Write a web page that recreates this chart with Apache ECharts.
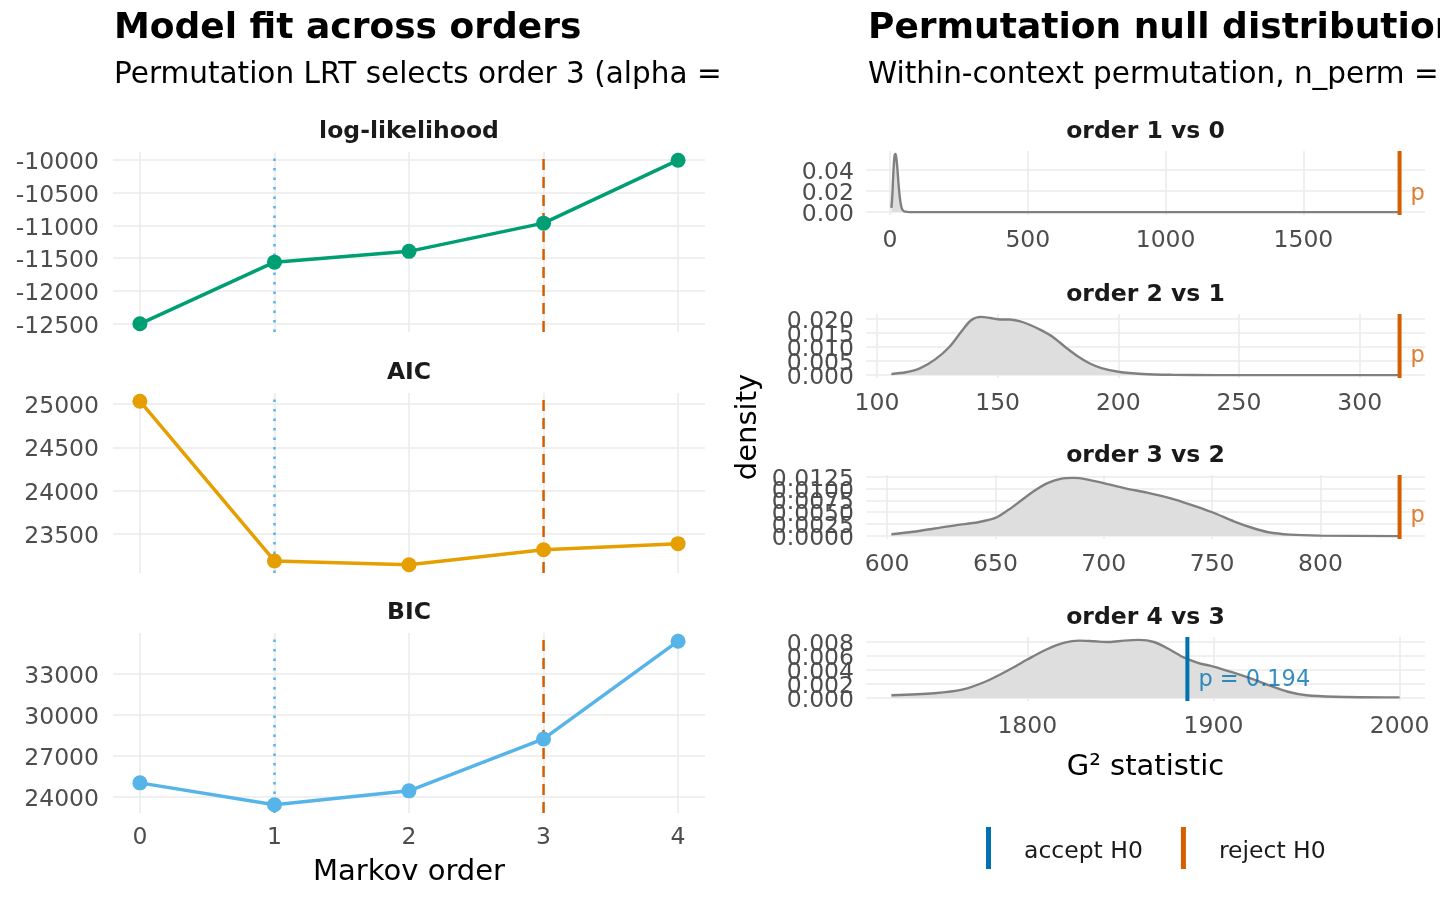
<!DOCTYPE html>
<html>
<head>
<meta charset="utf-8">
<title>Markov order selection</title>
<script src="https://cdn.jsdelivr.net/npm/echarts@6/dist/echarts.min.js"></script>
<style>
html, body { margin: 0; padding: 0; background: #fff; }
#main { width: 1440px; height: 900px; }
</style>
</head>
<body>
<div id="main"></div>
<script>
// ---- model fit across orders ----
var orders = [0, 1, 2, 3, 4];
var logLik = [-12500, -11560, -11395, -10965, -10005];
var aicVals = [25035, 23185, 23140, 23315, 23385];
var bicVals = [25025, 23415, 24440, 28245, 35415];
var llTicks = [-12500, -12000, -11500, -11000, -10500, -10000];
var aicTicks = [23500, 24000, 24500, 25000];
var bicTicks = [24000, 27000, 30000, 33000];
var icOrder = 1;    // dotted line
var lrtOrder = 3;   // dashed line, order picked by the permutation LRT

// ---- permutation null distributions (G2, density) ----
var nullLabels = ['order 1 vs 0', 'order 2 vs 1', 'order 3 vs 2', 'order 4 vs 3'];
var dens10 = [[5,0.004],[8,0.014],[11,0.031],[14,0.046],[17,0.054],[20,0.055],[23,0.051],[26,0.043],[29,0.033],
  [32,0.023],[35,0.015],[38,0.009],[42,0.004],[47,0.0015],[55,0.0004],[70,0],[1849,0]];
var dens21 = [[106,0.0004],[112,0.001],[118,0.0025],[124,0.0055],[130,0.01],[135,0.0155],[139,0.0195],[143,0.0207],
  [147,0.0203],[151,0.0198],[155,0.0198],[159,0.0192],[163,0.018],[168,0.016],[173,0.0135],[178,0.01],[183,0.0068],
  [188,0.0042],[193,0.0025],[200,0.0012],[210,0.0004],[222,0.0001],[240,0],[316.5,0]];
var dens32 = [[602,0.0004],[612,0.0009],[622,0.0016],[632,0.0023],[642,0.0029],[650,0.0038],[656,0.0055],[662,0.0075],
  [668,0.0095],[674,0.0111],[680,0.012],[686,0.0122],[692,0.0119],[700,0.0111],[710,0.01],[720,0.0091],[730,0.008],
  [740,0.0066],[750,0.005],[760,0.0031],[768,0.0018],[776,0.0008],[786,0.0003],[800,0.0001],[836.5,0]];
var dens43 = [[1727,0.0004],[1750,0.0007],[1765,0.0012],[1778,0.0024],[1790,0.004],[1800,0.0055],[1810,0.0069],
  [1820,0.0079],[1828,0.0082],[1836,0.0081],[1844,0.008],[1852,0.0082],[1860,0.0083],[1868,0.008],[1876,0.007],
  [1884,0.0058],[1892,0.005],[1900,0.0045],[1910,0.0037],[1920,0.0028],[1930,0.0018],[1940,0.0009],[1950,0.0004],
  [1965,0.0002],[2000,0.0001]];
var obsG2 = [1849, 316.5, 836.5, 1886];
var pText = ['p < 0.001', 'p < 0.001', 'p < 0.001', 'p = 0.194'];
var pTextY = [0.0165, 0.0069, 0.0041, 0.0025];
var decision = ['reject H0', 'reject H0', 'reject H0', 'accept H0'];
var g2Ticks = [[0, 500, 1000, 1500], [100, 150, 200, 250, 300], [600, 650, 700, 750, 800], [1800, 1900, 2000]];
var densTicks = [[0, 0.02, 0.04], [0, 0.005, 0.01, 0.015, 0.02],
  [0, 0.0025, 0.005, 0.0075, 0.01, 0.0125], [0, 0.002, 0.004, 0.006, 0.008]];
var densDigits = [2, 3, 4, 3];

// ---- layout / style ----
var FONT = 'DejaVu Sans';
var GRIDC = '#EBEBEB';
var TICKC = '#4D4D4D';
var decColor = { 'accept H0': '#0072B2', 'reject H0': '#D55E00' };
var leftBox = { left: 113, width: 592, tops: [152, 393, 633], height: 180 };
var rightBox = { left: 866, width: 559, tops: [151, 314, 475, 637], height: 64 };

// ggplot style 5% expansion of a continuous range
function expand(lo, hi) {
  var r = hi - lo;
  return [lo - r * 0.05, hi + r * 0.05];
}
function colMin(a, k) { return Math.min.apply(null, a.map(function (p) { return p[k]; })); }
function colMax(a, k) { return Math.max.apply(null, a.map(function (p) { return p[k]; })); }

var chart = echarts.init(document.getElementById('main'));

var grids = [], xAxes = [], yAxes = [], series = [], graphics = [];

var fitPanels = [
  { title: 'log-likelihood', values: logLik, ticks: llTicks, color: '#009E73' },
  { title: 'AIC', values: aicVals, ticks: aicTicks, color: '#E69F00' },
  { title: 'BIC', values: bicVals, ticks: bicTicks, color: '#56B4E9' }
];

var labelBase = { fontFamily: FONT, fontSize: 23.5, color: TICKC, margin: 12,
  showMinLabel: true, showMaxLabel: true, hideOverlap: false };
// y labels sit a little low on their grid line in the original
var yRich = { rich: { v: { fontFamily: FONT, fontSize: 23.5, color: TICKC, padding: [6, 0, 0, 0] } } };

fitPanels.forEach(function (p, i) {
  grids.push({ left: leftBox.left, width: leftBox.width, top: leftBox.tops[i], height: leftBox.height,
    containLabel: false, outerBoundsMode: 'none' });
  var xr = expand(Math.min.apply(null, orders), Math.max.apply(null, orders));
  var yr = expand(Math.min.apply(null, p.values), Math.max.apply(null, p.values));
  xAxes.push({
    type: 'value', gridIndex: i, min: xr[0], max: xr[1],
    axisLine: { show: false },
    axisTick: { show: false, customValues: orders },
    axisLabel: Object.assign({ show: i === 2, customValues: orders, formatter: function (v) { return String(v); } }, labelBase, { margin: 13 }),
    splitLine: { show: true, lineStyle: { color: GRIDC, width: 1.6 } },
    name: i === 2 ? 'Markov order' : '', nameLocation: 'middle', nameGap: 45,
    nameTextStyle: { fontFamily: FONT, fontSize: 29, color: '#000' }
  });
  var yi = yAxes.length;
  yAxes.push({
    type: 'value', gridIndex: i, min: yr[0], max: yr[1],
    axisLine: { show: false },
    axisTick: { show: false, customValues: p.ticks },
    axisLabel: Object.assign({ customValues: p.ticks, formatter: function (v) { return '{v|' + v + '}'; } },
      labelBase, yRich, { margin: 14 }),
    splitLine: { show: true, lineStyle: { color: GRIDC, width: 1.6 } }
  });
  series.push({
    type: 'line', xAxisIndex: i, yAxisIndex: yi, z: 3, silent: true,
    data: orders.map(function (o, k) { return [o, p.values[k]]; }),
    symbol: 'circle', symbolSize: 15, showSymbol: true,
    itemStyle: { color: p.color }, lineStyle: { color: p.color, width: 3.5 }
  });
  series.push({
    type: 'line', xAxisIndex: i, yAxisIndex: yi, z: 2, silent: true, symbol: 'none',
    data: [[icOrder, yr[0]], [icOrder, yr[1]]],
    lineStyle: { color: '#56B4E9', width: 2.5, type: [2.5, 7] }
  });
  series.push({
    type: 'line', xAxisIndex: i, yAxisIndex: yi, z: 2, silent: true, symbol: 'none',
    data: [[lrtOrder, yr[0]], [lrtOrder, yr[1]]],
    lineStyle: { color: '#D55E00', width: 2.5, type: [11, 7] }
  });
  graphics.push({ type: 'text', x: leftBox.left + leftBox.width / 2, y: leftBox.tops[i] - 20,
    style: { text: p.title, font: 'bold 23.5px "' + FONT + '"', fill: '#1A1A1A', align: 'center', verticalAlign: 'middle' } });
});

var densSets = [dens10, dens21, dens32, dens43];
var LABEL_AXES = 3;   // y labels overlap in the original; spread them over stacked axes so none is dropped

densSets.forEach(function (d, j) {
  var gi = 3 + j;
  grids.push({ left: rightBox.left, width: rightBox.width, top: rightBox.tops[j], height: rightBox.height,
    containLabel: false, outerBoundsMode: 'none' });
  var xr = expand(Math.min(colMin(d, 0), obsG2[j]), Math.max(colMax(d, 0), obsG2[j]));
  var yr = expand(0, colMax(d, 1));
  var digits = densDigits[j];
  xAxes.push({
    type: 'value', gridIndex: gi, min: xr[0], max: xr[1],
    axisLine: { show: false },
    axisTick: { show: false, customValues: g2Ticks[j] },
    axisLabel: Object.assign({ customValues: g2Ticks[j], formatter: function (v) { return String(v); } }, labelBase, { margin: 14 }),
    splitLine: { show: true, lineStyle: { color: GRIDC, width: 1.6 } },
    name: j === 3 ? 'G\u00B2 statistic' : '', nameLocation: 'middle', nameGap: 52,
    nameTextStyle: { fontFamily: FONT, fontSize: 29, color: '#000' }
  });
  var yi = yAxes.length;
  for (var k = 0; k < LABEL_AXES; k++) {
    var sub = densTicks[j].filter(function (t, n) { return n % LABEL_AXES === k; });
    yAxes.push({
      type: 'value', gridIndex: gi, min: yr[0], max: yr[1], position: 'left', offset: 0,
      axisLine: { show: false },
      axisTick: { show: false, customValues: k === 0 ? densTicks[j] : sub },
      axisLabel: Object.assign({ show: sub.length > 0, customValues: sub.length ? sub : [0],
        formatter: function (v) { return '{v|' + v.toFixed(digits) + '}'; } }, labelBase, yRich),
      splitLine: { show: k === 0, lineStyle: { color: GRIDC, width: 1.6 } }
    });
  }
  series.push({
    type: 'line', xAxisIndex: gi, yAxisIndex: yi, z: 2, silent: true,
    data: d, symbol: 'none', smooth: 0.3,
    lineStyle: { color: '#808080', width: 2.4 },
    areaStyle: { color: '#DEDEDE', opacity: 1 }
  });
  var c = decColor[decision[j]];
  series.push({
    name: decision[j], type: 'line', xAxisIndex: gi, yAxisIndex: yi, z: 3, silent: true, symbol: 'none',
    data: [[obsG2[j], yr[0]], [obsG2[j], yr[1]]],
    itemStyle: { color: c }, lineStyle: { color: c, width: 4 }
  });
  // p label, cut at the panel's right edge as in the original
  var px = rightBox.left + (obsG2[j] - xr[0]) / (xr[1] - xr[0]) * rightBox.width;
  var room = rightBox.left + rightBox.width - px - 11;
  series.push({
    type: 'scatter', xAxisIndex: gi, yAxisIndex: yi, z: 4, silent: true,
    data: [[obsG2[j], pTextY[j]]], symbolSize: 0,
    label: {
      show: true, position: 'right', distance: 11, formatter: pText[j],
      fontFamily: FONT, fontSize: 22.5, color: c,
      width: Math.max(room, 20), overflow: 'truncate', ellipsis: ''
    },
    labelLayout: { hideOverlap: false }
  });
  graphics.push({ type: 'text', x: rightBox.left + rightBox.width / 2, y: rightBox.tops[j] - 19,
    style: { text: nullLabels[j], font: 'bold 23.5px "' + FONT + '"', fill: '#1A1A1A', align: 'center', verticalAlign: 'middle' } });
});

graphics.push(
  { type: 'text', x: 114, y: 29, style: { text: 'Model fit across orders', font: 'bold 36px "' + FONT + '"', fill: '#000', verticalAlign: 'middle' } },
  { type: 'text', x: 114, y: 75, z: 1, style: { text: 'Permutation LRT selects order 3 (alpha = 0.05)', font: '29.5px "' + FONT + '"', fill: '#000',
    verticalAlign: 'middle' } },
  // the left plot is cut at its own edge, hiding the end of its subtitle
  { type: 'rect', x: 720, y: 52, z: 5, shape: { width: 140, height: 46 }, style: { fill: '#fff' }, silent: true },
  { type: 'text', x: 868, y: 29, style: { text: 'Permutation null distributions', font: 'bold 36px "' + FONT + '"', fill: '#000', verticalAlign: 'middle' } },
  { type: 'text', x: 868, y: 75, style: { text: 'Within-context permutation, n_perm = 1000', font: '29.5px "' + FONT + '"', fill: '#000', verticalAlign: 'middle' } },
  { type: 'text', x: 748, y: 427, rotation: Math.PI / 2,
    style: { text: 'density', font: '29px "' + FONT + '"', fill: '#000', align: 'center', verticalAlign: 'middle' } }
);

var option = {
  backgroundColor: '#fff',
  animation: false,
  grid: grids,
  xAxis: xAxes,
  yAxis: yAxes,
  series: series,
  graphic: graphics,
  legend: {
    data: ['accept H0', 'reject H0'],
    left: 986, top: 827, padding: 0,
    icon: 'rect', itemWidth: 5, itemHeight: 42, itemGap: 38,
    selectedMode: false,
    formatter: '{t|{name}}',
    textStyle: { fontFamily: FONT, fontSize: 23.5, color: '#1A1A1A', padding: [0, 0, 0, 28],
      rich: { t: { fontFamily: FONT, fontSize: 23.5, color: '#1A1A1A', padding: [8, 0, 0, 0] } } }
  }
};

chart.setOption(option);
</script>
</body>
</html>
